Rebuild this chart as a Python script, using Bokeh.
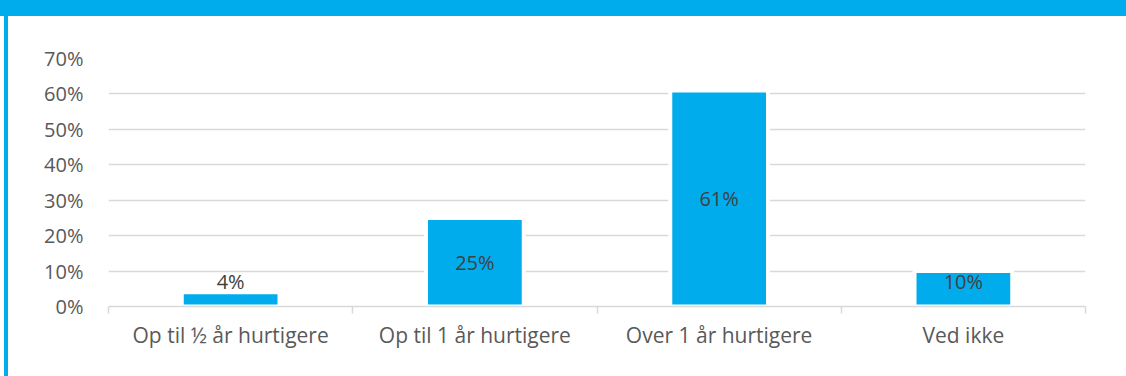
from bokeh.plotting import figure
from bokeh.models import Range1d, FixedTicker, LinearAxis, Grid, ColumnDataSource, Div
from bokeh.layouts import column, row
from bokeh.embed import file_html
from bokeh.resources import INLINE
from bokeh.core.properties import value

categories = ["Op til ½ år hurtigere", "Op til 1 år hurtigere", "Over 1 år hurtigere", "Ved ikke"]
values = [4, 25, 61, 10]
value_labels = ["4%", "25%", "61%", "10%"]
y_ticks = [0, 10, 20, 30, 40, 50, 60, 70]
y_tick_labels = ["0%", "10%", "20%", "30%", "40%", "50%", "60%", "70%"]

BLUE = "#00ACEC"
FONT = "Open Sans"
FS = "20px"
FSX = "21px"
W, H = 1126, 376
BANNER = 16
STRIPE_GAP = 4
STRIPE = 4

PW = W - STRIPE_GAP - STRIPE
PH = H - BANNER

p = figure(width=PW, height=PH, output_backend="svg", toolbar_location=None,
           x_range=Range1d(0, len(categories)), y_range=Range1d(0, 70),
           x_axis_type=None, y_axis_type=None,
           min_border_left=100, min_border_right=41, min_border_top=42, min_border_bottom=70)
p.outline_line_color = None
p.background_fill_color = "white"
p.border_fill_color = "white"
p.margin = 0

# y axis
yax = LinearAxis(ticker=FixedTicker(ticks=y_ticks),
                 major_label_overrides={t: l for t, l in zip(y_ticks, y_tick_labels)})
yax.axis_line_color = None
yax.major_tick_line_color = None
yax.minor_tick_line_color = None
yax.major_label_standoff = 19
yax.major_label_text_font = FONT
yax.major_label_text_font_size = FS
yax.major_label_text_color = "#595959"
p.add_layout(yax, "left")

p.add_layout(Grid(dimension=1, ticker=FixedTicker(ticks=y_ticks),
                  grid_line_color="#d9d9d9", grid_line_width=1.5))

# x axis line with boundary ticks
bounds = list(range(len(categories) + 1))
xa = LinearAxis(ticker=FixedTicker(ticks=bounds),
                major_label_overrides={b: "" for b in bounds})
xa.axis_line_color = "#d9d9d9"
xa.axis_line_width = 1.5
xa.major_tick_line_color = "#d9d9d9"
xa.major_tick_line_width = 1.5
xa.major_tick_out = 7
xa.major_tick_in = 0
xa.minor_tick_line_color = None
xa.major_label_standoff = 0
xa.major_label_text_font_size = "1px"
p.add_layout(xa, "below")

# category labels
centers = [i + 0.5 for i in range(len(categories))]
xb = LinearAxis(ticker=FixedTicker(ticks=centers),
                major_label_overrides={c: n for c, n in zip(centers, categories)})
xb.axis_line_color = None
xb.major_tick_line_color = None
xb.minor_tick_line_color = None
xb.major_label_standoff = 1
xb.major_label_text_font = FONT
xb.major_label_text_font_size = FSX
xb.major_label_text_color = "#595959"
p.add_layout(xb, "below")

src = ColumnDataSource(dict(x=centers, top=values, lab=value_labels,
                            ly=[max(v / 2, 7) for v in values]))
p.vbar(x="x", top="top", width=0.40, source=src, fill_color=BLUE,
       line_color="white", line_width=4)
p.text(x="x", y="ly", text="lab", source=src, text_align="center", text_baseline="middle",
       text_font=value(FONT), text_font_size=FS, text_color="#404040")

banner = Div(text="", width=W, height=BANNER, margin=0,
             styles={"background-color": BLUE})
gap = Div(text="", width=STRIPE_GAP, height=PH, margin=0,
          styles={"background-color": "white"})
stripe = Div(text="", width=STRIPE, height=PH, margin=0,
             styles={"background-color": BLUE})

layout = column(banner, row(gap, stripe, p, spacing=0), spacing=0)

open("out.html", "w").write(file_html(layout, INLINE))
